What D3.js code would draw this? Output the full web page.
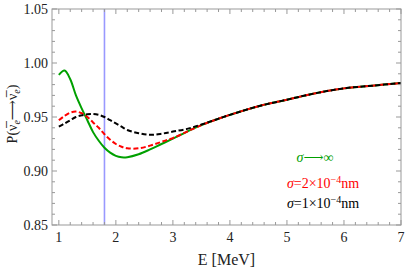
<!DOCTYPE html>
<html>
<head>
<meta charset="utf-8">
<script src="https://cdn.jsdelivr.net/npm/d3@7"></script>
<style>
  body { margin: 0; background: #fff; }
  text { font-family: "Liberation Serif", "DejaVu Serif", serif; }
</style>
</head>
<body>
<svg id="chart"></svg>
<script>
// energies in MeV
var energy = [1.0, 1.1, 1.2, 1.3, 1.4, 1.5, 1.6, 1.7, 1.8, 1.9, 2.0, 2.1, 2.2, 2.4, 2.6, 2.8, 3.0, 3.25, 3.5, 3.75, 4.0, 4.5, 5.0, 5.5, 6.0, 6.5, 7.0];
// sigma -> infinity
var pInf = [0.989, 0.993, 0.985, 0.970, 0.958, 0.947, 0.936, 0.928, 0.9215, 0.917, 0.914, 0.9127, 0.9128, 0.9155, 0.920, 0.925, 0.930, 0.9365, 0.9425, 0.9475, 0.952, 0.960, 0.966, 0.972, 0.9765, 0.979, 0.9815];
// sigma = 2e-4 nm
var pS2 = [0.947, 0.951, 0.954, 0.955, 0.9535, 0.950, 0.945, 0.940, 0.934, 0.929, 0.925, 0.9225, 0.921, 0.921, 0.9235, 0.927, 0.9305, 0.9365, 0.9425, 0.9475, 0.952, 0.960, 0.966, 0.972, 0.9765, 0.979, 0.9815];
// sigma = 1e-4 nm
var pS1 = [0.941, 0.944, 0.947, 0.950, 0.9515, 0.9525, 0.9528, 0.952, 0.950, 0.947, 0.944, 0.941, 0.938, 0.935, 0.9335, 0.9345, 0.9365, 0.939, 0.943, 0.9475, 0.952, 0.960, 0.966, 0.972, 0.9765, 0.979, 0.9815];
var xTicks = [1, 2, 3, 4, 5, 6, 7];
var yTicks = [0.85, 0.90, 0.95, 1.00, 1.05];
var threshold = 1.8;

var width = 407, height = 271;
var margin = { top: 9, right: 6, bottom: 46, left: 52 };

var svg = d3.select("#chart").attr("width", width).attr("height", height);

var x = d3.scaleLinear().domain([0.88, 7]).range([margin.left, width - margin.right]);
var y = d3.scaleLinear().domain([0.85, 1.05]).range([height - margin.bottom, margin.top]);

var plotW = width - margin.left - margin.right;
var plotH = height - margin.top - margin.bottom;

svg.append("clipPath").attr("id", "clip")
  .append("rect")
  .attr("x", margin.left).attr("y", margin.top)
  .attr("width", plotW).attr("height", plotH);

// threshold line
svg.append("line")
  .attr("x1", x(threshold)).attr("x2", x(threshold))
  .attr("y1", y(0.85)).attr("y2", y(1.05))
  .attr("stroke", "#9999ff")
  .attr("stroke-width", 1.6);

var line = d3.line()
  .x((d, i) => x(energy[i]))
  .y((d) => y(d))
  .curve(d3.curveCatmullRom.alpha(0.5));

var g = svg.append("g").attr("clip-path", "url(#clip)");

g.append("path").attr("d", line(pInf))
  .attr("fill", "none").attr("stroke", "#00a000").attr("stroke-width", 2);
g.append("path").attr("d", line(pS2))
  .attr("fill", "none").attr("stroke", "#ff0000").attr("stroke-width", 2)
  .attr("stroke-dasharray", "5,2.5");
g.append("path").attr("d", line(pS1))
  .attr("fill", "none").attr("stroke", "#000").attr("stroke-width", 2)
  .attr("stroke-dasharray", "5,2.5").attr("stroke-dashoffset", 0);

// frame
svg.append("rect")
  .attr("x", margin.left).attr("y", margin.top)
  .attr("width", plotW).attr("height", plotH)
  .attr("fill", "none").attr("stroke", "#999").attr("stroke-width", 1);

var xMinor = d3.range(1, 7.001, 0.2).filter((v) => Math.abs(v - Math.round(v)) > 0.01);
var yMinor = d3.range(0.85, 1.0501, 0.01).filter((v) => Math.abs(v * 20 - Math.round(v * 20)) > 0.01);

var tickCol = "#999";
function xTickMarks(vals, len) {
  vals.forEach((v) => {
    svg.append("line").attr("x1", x(v)).attr("x2", x(v))
      .attr("y1", y(0.85)).attr("y2", y(0.85) - len).attr("stroke", tickCol);
    svg.append("line").attr("x1", x(v)).attr("x2", x(v))
      .attr("y1", y(1.05)).attr("y2", y(1.05) + len).attr("stroke", tickCol);
  });
}
function yTickMarks(vals, len) {
  vals.forEach((v) => {
    svg.append("line").attr("y1", y(v)).attr("y2", y(v))
      .attr("x1", x.range()[0]).attr("x2", x.range()[0] + len).attr("stroke", tickCol);
    svg.append("line").attr("y1", y(v)).attr("y2", y(v))
      .attr("x1", x.range()[1]).attr("x2", x.range()[1] - len).attr("stroke", tickCol);
  });
}
xTickMarks(xTicks, 5);
xTickMarks(xMinor, 3);
yTickMarks(yTicks, 5);
yTickMarks(yMinor, 3);

// tick labels
svg.selectAll(".xl").data(xTicks).enter().append("text")
  .attr("x", (d) => x(d)).attr("y", y(0.85) + 17)
  .attr("text-anchor", "middle").attr("font-size", 14).attr("fill", "#222")
  .text((d) => d);
svg.selectAll(".yl").data(yTicks).enter().append("text")
  .attr("x", margin.left - 4).attr("y", (d) => y(d) + 5)
  .attr("text-anchor", "end").attr("font-size", 14).attr("fill", "#222")
  .text((d) => d3.format(".2f")(d));

// axis titles
svg.append("text")
  .attr("x", (margin.left + width - margin.right) / 2).attr("y", height - 6)
  .attr("text-anchor", "middle").attr("font-size", 16).attr("fill", "#222")
  .text("E [MeV]");

var yt = svg.append("text")
  .attr("transform", "translate(17," + (margin.top + plotH / 2 - 3) + ") rotate(-90)")
  .attr("text-anchor", "middle").attr("font-size", 14).attr("fill", "#222");
yt.append("tspan").text("P(\u03BD\u0305");
yt.append("tspan").attr("font-size", 10).attr("font-style", "italic").attr("dy", 3).text("e");
yt.append("tspan").attr("dy", -3).text("\u27F6\u03BD\u0305");
yt.append("tspan").attr("font-size", 10).attr("font-style", "italic").attr("dy", 3).text("e");
yt.append("tspan").attr("dy", -3).text(")");

// legend
var legend = [
  { color: "#00a000", cx: 315, cy: 162, parts: [["\u03C3", "italic"], ["\u27F6\u221E", "normal"]] },
  { color: "#ff0000", cx: 323, cy: 188, exp: "2" },
  { color: "#000000", cx: 323, cy: 208, exp: "1" }
];
legend.forEach((l) => {
  var t = svg.append("text").attr("x", l.cx).attr("y", l.cy)
    .attr("text-anchor", "middle").attr("font-size", 14).attr("fill", l.color);
  if (l.parts) {
    l.parts.forEach((p) => t.append("tspan").attr("font-style", p[1]).text(p[0]));
  } else {
    t.append("tspan").attr("font-style", "italic").text("\u03C3");
    t.append("tspan").text("=" + l.exp + "\u00D710");
    t.append("tspan").attr("font-size", 10).attr("dy", -5).text("\u22124");
    t.append("tspan").attr("dy", 5).text("nm");
  }
});
</script>
</body>
</html>
